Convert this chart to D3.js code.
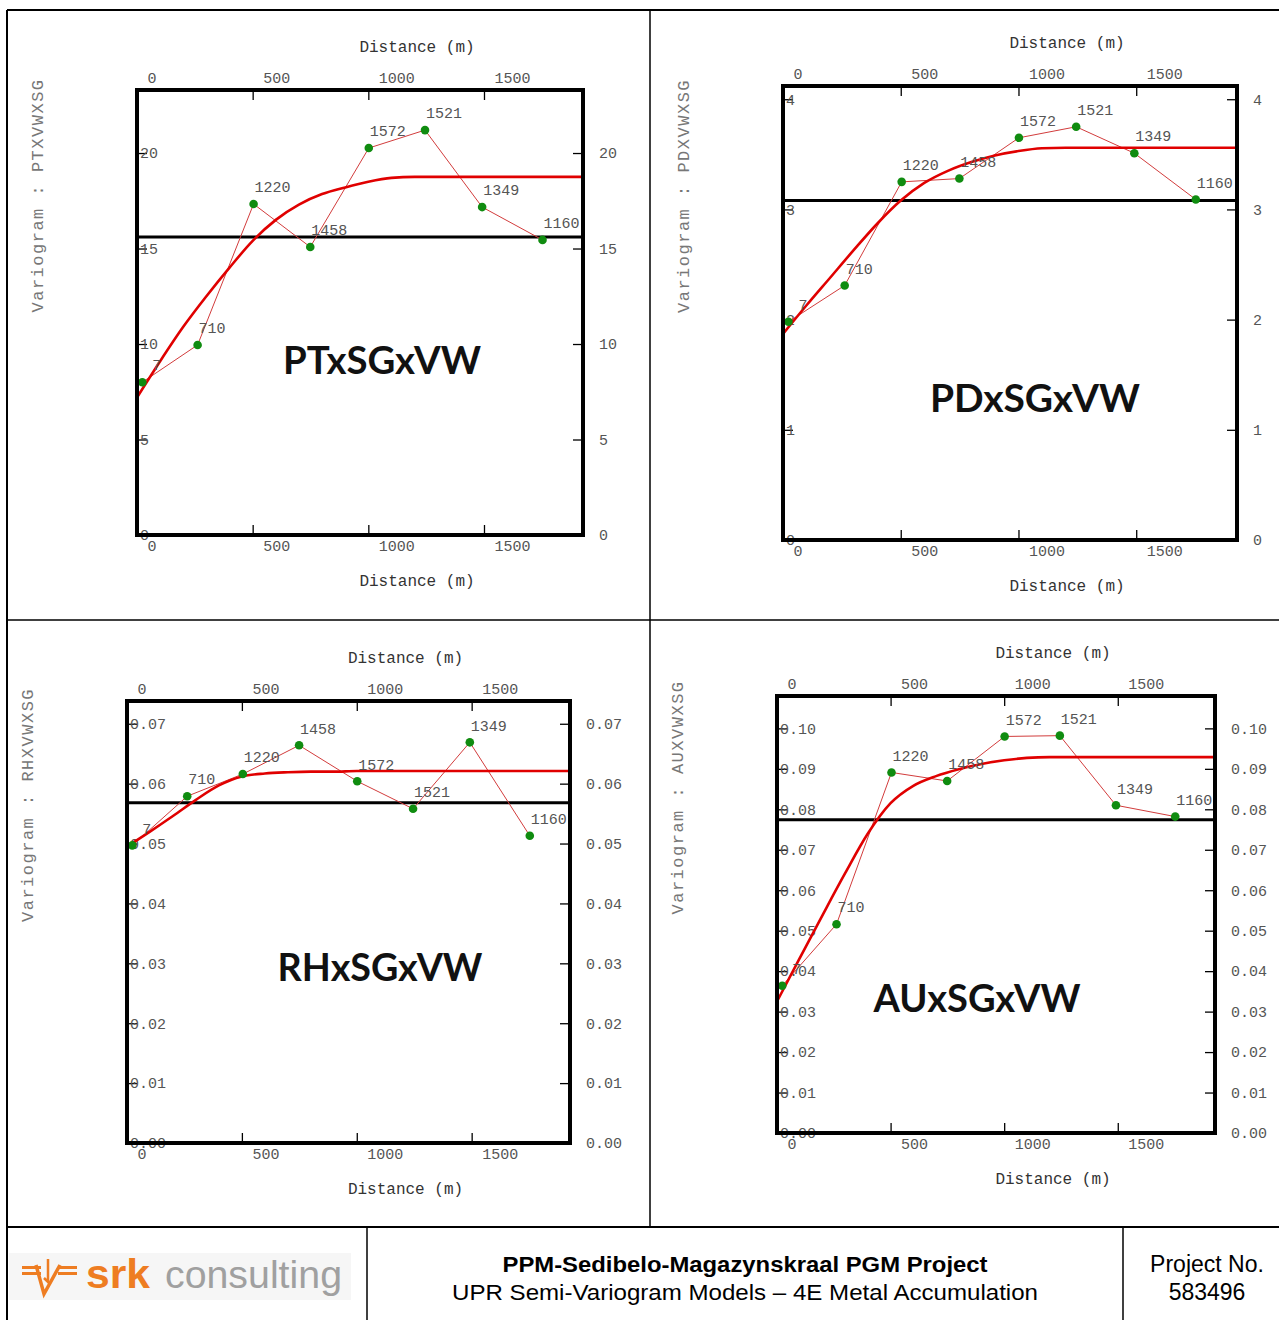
<!DOCTYPE html>
<html>
<head>
<meta charset="utf-8">
<script src="https://cdn.jsdelivr.net/npm/d3@7"></script>
<style>
  body { margin: 0; background: #fff; }
  svg { display: block; }
</style>
</head>
<body>
<div id="chart"></div>
<script>
// lag distances (m) and pair counts shared by all four variograms
var lagDist = [23, 262, 504, 749, 1002, 1245, 1492, 1753];
var pairLabels = ["7", "710", "1220", "1458", "1572", "1521", "1349", "1160"];
var xTicks = [0, 500, 1000, 1500];
var xMax = 1928;

// model curve at these distances
var modelDist = [0, 100, 200, 300, 400, 500, 600, 700, 800, 900, 1000, 1100, 1200, 1928];

// PT
var ptGamma = [8.0, 9.95, 17.33, 15.08, 20.26, 21.2, 17.17, 15.45];
var ptModel = [7.2, 9.1, 10.9, 12.5, 14.0, 15.4, 16.5, 17.3, 17.85, 18.2, 18.5, 18.7, 18.75, 18.75];
var ptTicks = [0, 5, 10, 15, 20];
var ptSill = 15.6;

// PD
var pdGamma = [1.98, 2.31, 3.25, 3.28, 3.65, 3.75, 3.51, 3.09];
var pdModel = [1.87, 2.13, 2.38, 2.63, 2.87, 3.08, 3.24, 3.35, 3.43, 3.49, 3.53, 3.555, 3.56, 3.56];
var pdTicks = [0, 1, 2, 3, 4];
var pdSill = 3.08;

// RH
var rhGamma = [0.0497, 0.0579, 0.0616, 0.0664, 0.0604, 0.0558, 0.0669, 0.0513];
var rhModel = [0.0495, 0.0520, 0.0546, 0.0573, 0.0597, 0.0612, 0.0617, 0.0619, 0.0620, 0.0620, 0.0621, 0.0621, 0.0621, 0.0621];
var rhTicks = [0, 0.01, 0.02, 0.03, 0.04, 0.05, 0.06, 0.07];
var rhSill = 0.0568;

// AU
var auGamma = [0.0364, 0.0516, 0.0891, 0.0870, 0.0980, 0.0982, 0.0810, 0.0782];
var auModel = [0.0325, 0.0432, 0.0538, 0.0642, 0.0740, 0.0815, 0.0858, 0.0882, 0.0899, 0.0912, 0.0921, 0.0927, 0.0929, 0.0929];
var auTicks = [0, 0.01, 0.02, 0.03, 0.04, 0.05, 0.06, 0.07, 0.08, 0.09, 0.10];
var auSill = 0.0774;

var panels = [
  {title: "PTxSGxVW", yLab: "Variogram : PTXVWXSG", gamma: ptGamma, model: ptModel, ticks: ptTicks, sill: ptSill,
   yMax: 23.3, fmt: d3.format("d"), box: [137, 90, 583, 535], tpos: [382, 374], tlen: 198},
  {title: "PDxSGxVW", yLab: "Variogram : PDXVWXSG", gamma: pdGamma, model: pdModel, ticks: pdTicks, sill: pdSill,
   yMax: 4.12, fmt: d3.format("d"), box: [783, 86, 1237, 540], tpos: [1035, 412], tlen: 210},
  {title: "RHxSGxVW", yLab: "Variogram : RHXVWXSG", gamma: rhGamma, model: rhModel, ticks: rhTicks, sill: rhSill,
   yMax: 0.0738, fmt: d3.format(".2f"), box: [127, 701, 570, 1143], tpos: [380, 981], tlen: 205},
  {title: "AUxSGxVW", yLab: "Variogram : AUXVWXSG", gamma: auGamma, model: auModel, ticks: auTicks, sill: auSill,
   yMax: 0.108, fmt: d3.format(".2f"), box: [777, 696, 1215, 1133], tpos: [977, 1012], tlen: 207}
];

var mono = "'Liberation Mono', 'Courier New', monospace";

var svg = d3.select("#chart")
    .append("svg")
    .attr("width", 1279)
    .attr("height", 1320);

svg.append("rect").attr("width", 1279).attr("height", 1320).attr("fill", "#fff");

// frame of the figure
var frame = [
  [7, 10, 1279, 10, 2], [7, 10, 7, 1320, 2], [650, 10, 650, 1227, 1.5], [7, 620, 1279, 620, 1.5],
  [7, 1227, 1279, 1227, 2], [367, 1227, 367, 1320, 1.5], [1123, 1227, 1123, 1320, 1.5]
];
svg.selectAll(".frame")
    .data(frame)
    .enter()
    .append("line")
    .attr("x1", function(d) { return d[0]; })
    .attr("y1", function(d) { return d[1]; })
    .attr("x2", function(d) { return d[2]; })
    .attr("y2", function(d) { return d[3]; })
    .attr("stroke", "#000")
    .attr("stroke-width", function(d) { return d[4]; });

function styleAxis(a) {
  a.select(".domain").remove();
  a.selectAll(".tick line").attr("stroke", "#000").attr("stroke-width", 1.3);
  a.selectAll(".tick text")
      .attr("font-family", mono)
      .attr("font-size", 15)
      .attr("fill", "#555");
}

var xFmt = d3.format("d");

panels.forEach(function(p) {
  var x0 = p.box[0], y0 = p.box[1], x1 = p.box[2], y1 = p.box[3];
  var g = svg.append("g");

  var x = d3.scaleLinear().domain([0, xMax]).range([x0, x1]);
  var y = d3.scaleLinear().domain([0, p.yMax]).range([y1, y0]);

  // top axis
  g.append("g")
      .attr("transform", "translate(0," + y0 + ")")
      .call(d3.axisTop(x).tickValues(xTicks).tickSize(-10).tickFormat(xFmt))
      .call(styleAxis)
      .selectAll(".tick text")
      .attr("text-anchor", "start")
      .attr("x", 10)
      .attr("y", -12)
      .attr("dy", "0.35em");

  // bottom axis
  g.append("g")
      .attr("transform", "translate(0," + y1 + ")")
      .call(d3.axisBottom(x).tickValues(xTicks).tickSize(-10).tickFormat(xFmt))
      .call(styleAxis)
      .selectAll(".tick text")
      .attr("text-anchor", "start")
      .attr("x", 10)
      .attr("y", 11)
      .attr("dy", "0.35em");

  // left axis, labels sit inside the box
  g.append("g")
      .attr("transform", "translate(" + x0 + ",0)")
      .call(d3.axisLeft(y).tickValues(p.ticks).tickSize(-10).tickFormat(p.fmt))
      .call(styleAxis)
      .selectAll(".tick text")
      .attr("text-anchor", "start")
      .attr("x", 3);

  // right axis
  g.append("g")
      .attr("transform", "translate(" + x1 + ",0)")
      .call(d3.axisRight(y).tickValues(p.ticks).tickSize(-10).tickFormat(p.fmt))
      .call(styleAxis)
      .selectAll(".tick text")
      .attr("text-anchor", "start")
      .attr("x", 16);

  // distance titles
  [y0 - 44, y1 + 45].forEach(function(ty) {
    g.append("text")
        .attr("x", (x0 + x1) / 2 + 57)
        .attr("y", ty)
        .attr("dy", "0.35em")
        .attr("text-anchor", "middle")
        .attr("font-family", mono)
        .attr("font-size", 16)
        .attr("fill", "#333")
        .text("Distance (m)");
  });

  // variogram title, rotated
  g.append("text")
      .attr("transform", "translate(" + (x0 - 94) + "," + ((y0 + y1) / 2) + ")rotate(-90)")
      .attr("font-family", mono)
      .attr("font-size", 17)
      .attr("letter-spacing", "1.5px")
      .attr("fill", "#777")
      .text(p.yLab);

  // sill line
  g.append("line")
      .attr("x1", x0).attr("x2", x1)
      .attr("y1", y(p.sill)).attr("y2", y(p.sill))
      .attr("stroke", "#000")
      .attr("stroke-width", 3);

  // experimental variogram
  g.append("path")
      .datum(lagDist)
      .attr("fill", "none")
      .attr("stroke", "#d23c3c")
      .attr("stroke-width", 1)
      .attr("d", d3.line()
          .x(function(d) { return x(d); })
          .y(function(d, i) { return y(p.gamma[i]); }));

  // model
  g.append("path")
      .datum(modelDist)
      .attr("fill", "none")
      .attr("stroke", "#e00000")
      .attr("stroke-width", 2.6)
      .attr("d", d3.line()
          .curve(d3.curveMonotoneX)
          .x(function(d) { return x(d); })
          .y(function(d, i) { return y(p.model[i]); }));

  g.selectAll(".pt")
      .data(lagDist)
      .enter()
      .append("circle")
      .attr("cx", function(d) { return x(d); })
      .attr("cy", function(d, i) { return y(p.gamma[i]); })
      .attr("r", 4.3)
      .attr("fill", "#108c10");

  g.selectAll(".lbl")
      .data(lagDist)
      .enter()
      .append("text")
      .attr("x", function(d, i) { return x(d) + (i === 0 ? 10 : 1); })
      .attr("y", function(d, i) { return y(p.gamma[i]) - 17; })
      .attr("dy", "0.35em")
      .attr("font-family", mono)
      .attr("font-size", 15)
      .attr("fill", "#555")
      .text(function(d, i) { return pairLabels[i]; });

  // box
  g.append("rect")
      .attr("x", x0).attr("y", y0)
      .attr("width", x1 - x0).attr("height", y1 - y0)
      .attr("fill", "none")
      .attr("stroke", "#000")
      .attr("stroke-width", 4);

  // big label
  g.append("text")
      .attr("x", p.tpos[0])
      .attr("y", p.tpos[1])
      .attr("text-anchor", "middle")
      .attr("font-family", "Lato, 'Open Sans', sans-serif")
      .attr("font-weight", "bold")
      .attr("font-size", 39)
      .attr("textLength", p.tlen)
      .attr("lengthAdjust", "spacingAndGlyphs")
      .attr("fill", "#111")
      .text(p.title);
});

// footer: logo
var orange = "#ee7d22";
svg.append("rect").attr("x", 9).attr("y", 1253).attr("width", 342).attr("height", 47).attr("fill", "#f6f6f6");
var logo = svg.append("g").attr("stroke", orange).attr("fill", "none").attr("stroke-width", 3);
logo.append("path").attr("d", "M22,1267.5H41M22,1273.5H41M58,1267.5H77M58,1273.5H77");
logo.append("path").attr("d", "M36,1265L44,1294L60,1265").attr("stroke-width", 3.5);
logo.append("path").attr("d", "M48,1259V1282L44,1278").attr("stroke-width", 2.5);

svg.append("text")
    .attr("x", 86).attr("y", 1288)
    .attr("font-family", "'Liberation Sans', Arial, sans-serif")
    .attr("font-weight", "bold")
    .attr("font-size", 40)
    .attr("textLength", 64)
    .attr("lengthAdjust", "spacingAndGlyphs")
    .attr("fill", orange)
    .text("srk");
svg.append("text")
    .attr("x", 165).attr("y", 1288)
    .attr("font-family", "'Liberation Sans', Arial, sans-serif")
    .attr("font-size", 39)
    .attr("textLength", 177)
    .attr("lengthAdjust", "spacingAndGlyphs")
    .attr("fill", "#a0a0a0")
    .text("consulting");

// footer: titles
var sans = "'Liberation Sans', Arial, sans-serif";
svg.append("text")
    .attr("x", 745).attr("y", 1272)
    .attr("text-anchor", "middle")
    .attr("font-family", sans).attr("font-weight", "bold").attr("font-size", 22)
    .attr("textLength", 485).attr("lengthAdjust", "spacingAndGlyphs")
    .attr("fill", "#000")
    .text("PPM-Sedibelo-Magazynskraal PGM Project");
svg.append("text")
    .attr("x", 745).attr("y", 1300)
    .attr("text-anchor", "middle")
    .attr("font-family", sans).attr("font-size", 22)
    .attr("textLength", 586).attr("lengthAdjust", "spacingAndGlyphs")
    .attr("fill", "#000")
    .text("UPR Semi-Variogram Models \u2013 4E Metal Accumulation");
svg.append("text")
    .attr("x", 1207).attr("y", 1272)
    .attr("text-anchor", "middle")
    .attr("font-family", sans).attr("font-size", 23)
    .attr("fill", "#000")
    .text("Project No.");
svg.append("text")
    .attr("x", 1207).attr("y", 1300)
    .attr("text-anchor", "middle")
    .attr("font-family", sans).attr("font-size", 23)
    .attr("fill", "#000")
    .text("583496");
</script>
</body>
</html>
